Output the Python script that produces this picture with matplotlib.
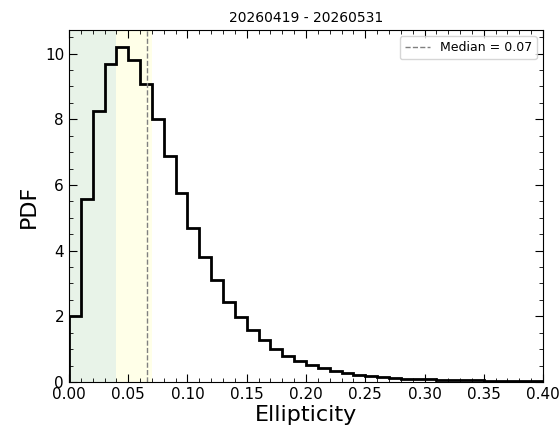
import numpy as np
import matplotlib
matplotlib.use("Agg")
import matplotlib.pyplot as plt
from matplotlib.ticker import MultipleLocator

# Histogram (PDF) values per 0.01-wide ellipticity bin, 0.00 .. 0.40
pdf_values = [2.0, 5.58, 8.24, 9.69, 10.21, 9.81, 9.06, 8.01, 6.87, 5.75,
              4.70, 3.82, 3.10, 2.45, 1.97, 1.58, 1.28, 1.02, 0.80, 0.64,
              0.52, 0.42, 0.33, 0.27, 0.21, 0.17, 0.14, 0.12, 0.10, 0.09,
              0.08, 0.07, 0.06, 0.055, 0.05, 0.045, 0.04, 0.035, 0.03, 0.025]
bin_edges = np.linspace(0.0, 0.40, len(pdf_values) + 1)
median = 0.0655
green_span = (0.0, 0.04)
yellow_span = (0.04, 0.07)
title = "20260419 - 20260531"

fig = plt.figure(figsize=(5.59, 4.34), dpi=100)
ax = fig.add_axes([0.1234, 0.1198, 0.8480, 0.8111])

ax.axvspan(*green_span, color="green", alpha=0.09, lw=0)
ax.axvspan(*yellow_span, color="yellow", alpha=0.09, lw=0)
ax.stairs(pdf_values, bin_edges, color="black", lw=2)
ax.axvline(median, color="gray", ls="--", lw=1, label=f"Median = {median:.2f}")

ax.set_xlim(0, 0.40)
ax.set_ylim(0, 10.72)
ax.xaxis.set_major_locator(MultipleLocator(0.05))
ax.xaxis.set_minor_locator(MultipleLocator(0.01))
ax.yaxis.set_major_locator(MultipleLocator(2))
ax.yaxis.set_minor_locator(MultipleLocator(0.5))
ax.tick_params(which="both", direction="in", top=True, right=True, labelsize=11)
ax.tick_params(which="major", length=6)
ax.tick_params(which="minor", length=3)

ax.set_xlabel("Ellipticity", fontsize=16, labelpad=2)
ax.set_ylabel("PDF", fontsize=16)
ax.set_title(title, fontsize=10)
ax.legend(loc="upper right", fontsize=9)

fig.savefig("out.png", dpi=100)
